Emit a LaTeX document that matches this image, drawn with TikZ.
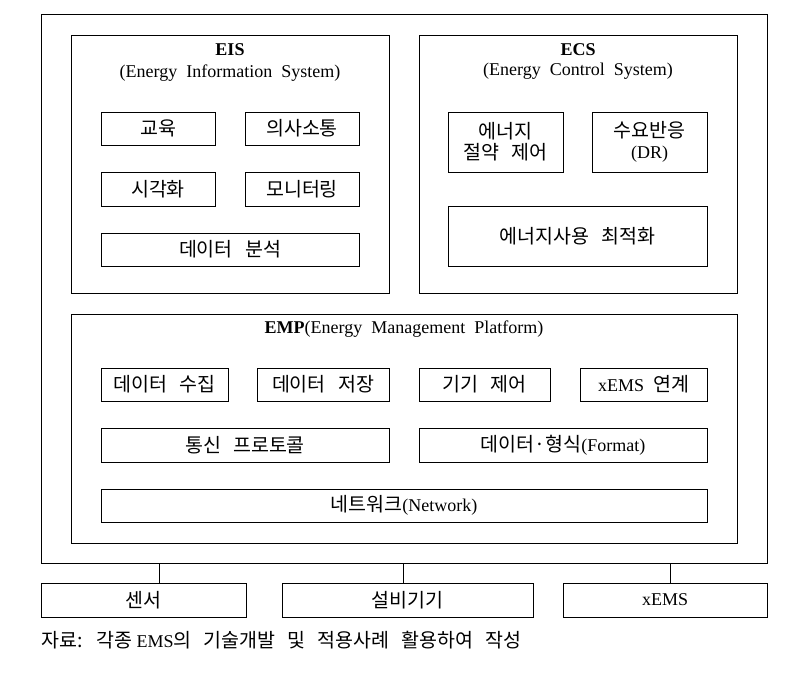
\documentclass[tikz,border=0pt]{standalone}
\usepackage{fontspec}
\setmainfont{Liberation Serif}
\newfontfamily\kr[WordSpace=2.8]{Noto Sans CJK KR}
\newcommand{\K}[1]{{\kr\fontsize{19.5}{21}\selectfont #1}}
\tikzset{
  x=1pt, y=-1pt,
  frame/.style={draw, line width=0.9pt, inner sep=0pt},
  item/.style={draw, line width=0.9pt, inner sep=0pt, align=center,
    font=\fontsize{18}{21}\selectfont},
  ttl/.style={inner sep=0pt, font=\fontsize{18}{21}\selectfont},
}
\begin{document}
\begin{tikzpicture}
\useasboundingbox (0,0) rectangle (805,699);
% outer frames
\node[frame, minimum width=726, minimum height=549] (outer) at (404,288.5) {};
\node[frame, minimum width=318, minimum height=258] (eis) at (230,164) {};
\node[frame, minimum width=318, minimum height=258] (ecs) at (578,164) {};
\node[frame, minimum width=666, minimum height=229] (emp) at (404,428.5) {};
% titles
\node[ttl] (eist) at (230,50) {\textbf{EIS}};
\node[ttl] (eiss) at (230,73) {(Energy\ \ Information\ \ System)};
\node[ttl] (ecst) at (578,50) {\textbf{ECS}};
\node[ttl] (ecss) at (578,71) {(Energy\ \ Control\ \ System)};
\node[ttl] (empt) at (404,329) {\textbf{EMP}(Energy\ \ Management\ \ Platform)};
% EIS items
\node[item, minimum width=114, minimum height=33] (edu) at (158,128.5) {\K{교육}};
\node[item, minimum width=114, minimum height=33] (comm) at (302,128.5) {\K{의사소통}};
\node[item, minimum width=114, minimum height=34] (vis) at (158,189) {\K{시각화}};
\node[item, minimum width=114, minimum height=34] (mon) at (302,189) {\K{모니터링}};
\node[item, minimum width=258, minimum height=33] (ana) at (230,249.5) {\K{데이터 분석}};
% ECS items
\node[item, minimum width=115, minimum height=60] (save) at (505.5,142) {\K{에너지}\\\K{절약 제어}};
\node[item, minimum width=115, minimum height=60] (dr) at (649.5,142) {\K{수요반응}\\(DR)};
\node[item, minimum width=259, minimum height=60] (opt) at (577.5,236) {\K{에너지사용 최적화}};
% EMP items
\node[item, minimum width=127, minimum height=33] (col) at (164.5,384.5) {\K{데이터 수집}};
\node[item, minimum width=132, minimum height=33] (sto) at (323,384.5) {\K{데이터 저장}};
\node[item, minimum width=131, minimum height=33] (ctl) at (484.5,384.5) {\K{기기 제어}};
\node[item, minimum width=127, minimum height=33] (link) at (643.5,384.5) {xEMS\ \ \K{연계}};
\node[item, minimum width=288, minimum height=34] (prot) at (245,445) {\K{통신 프로토콜}};
\node[item, minimum width=288, minimum height=34] (fmt) at (563,445) {\K{데이터·형식}(Format)};
\node[item, minimum width=606, minimum height=33] (net) at (404,505.5) {\K{네트워크}(Network)};
% bottom devices
\node[item, minimum width=205, minimum height=34] (sen) at (143.5,600) {\K{센서}};
\node[item, minimum width=251, minimum height=34] (eq) at (407.5,600) {\K{설비기기}};
\node[item, minimum width=204, minimum height=34] (xems) at (665,600) {xEMS};
% connectors
\draw[line width=0.9pt] ([xshift=15.5pt]sen.north) -- ([xshift=15.5pt]sen.north |- outer.south);
\draw[line width=0.9pt] ([xshift=-4.5pt]eq.north) -- ([xshift=-4.5pt]eq.north |- outer.south);
\draw[line width=0.9pt] ([xshift=5pt]xems.north) -- ([xshift=5pt]xems.north |- outer.south);
% caption
\node[anchor=west, inner sep=0pt, font=\fontsize{18}{21}\selectfont] (cap) at (41,640)
  {\K{자료: 각종} EMS\K{의 기술개발 및 적용사례 활용하여 작성}};
\end{tikzpicture}
\end{document}
